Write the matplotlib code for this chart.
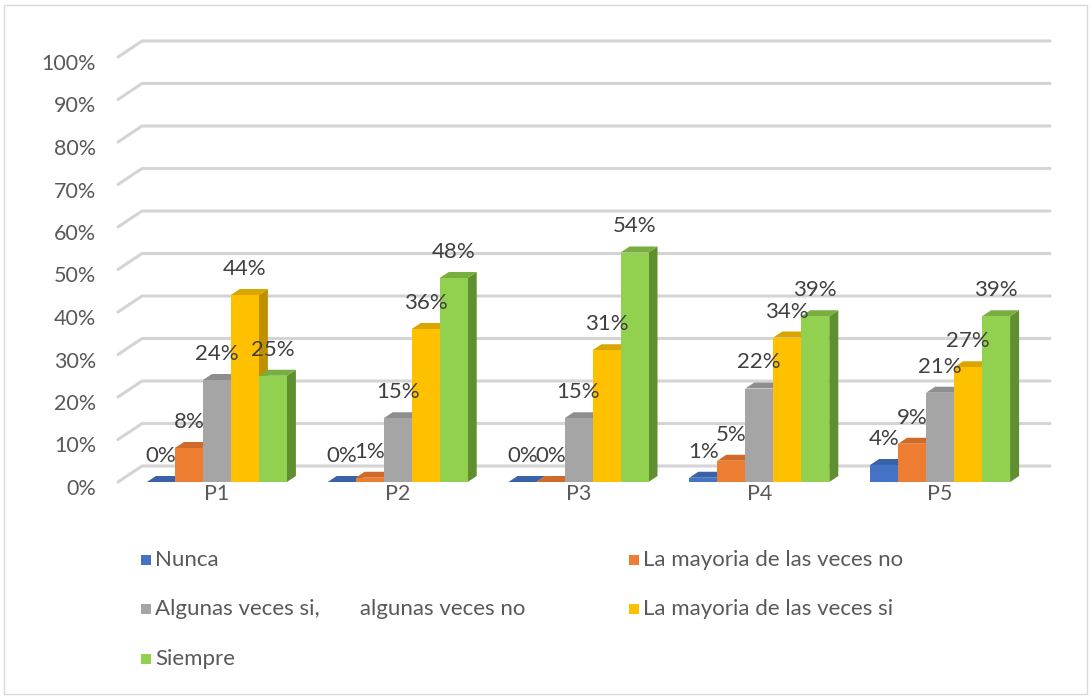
import matplotlib
matplotlib.use("Agg")
import matplotlib.pyplot as plt
from matplotlib.patches import Polygon, Rectangle
import numpy as np

categories = ["P1", "P2", "P3", "P4", "P5"]
series_names = ["Nunca", "La mayoria de las veces no",
                "Algunas veces si,       algunas veces no",
                "La mayoria de las veces si", "Siempre"]
nunca = [0, 0, 0, 1, 4]
mayoria_no = [8, 1, 0, 5, 9]
algunas = [24, 15, 15, 22, 21]
mayoria_si = [44, 36, 31, 34, 27]
siempre = [25, 48, 54, 39, 39]
yticks = [0, 10, 20, 30, 40, 50, 60, 70, 80, 90, 100]

series = [nunca, mayoria_no, algunas, mayoria_si, siempre]
front_colors = ["#4472C4", "#ED7D31", "#A5A5A5", "#FFC000", "#92D050"]
side_colors = ["#2F5597", "#B35A1F", "#7C7C7C", "#BF9000", "#5F8F2F"]
top_colors = ["#3A62A8", "#CF6A28", "#8E8E8E", "#DBA500", "#77AE3F"]

W, H = 1092, 698
plt.rcParams['font.family'] = ['Lato', 'DejaVu Sans']
fig = plt.figure(figsize=(W / 100, H / 100), dpi=100)

# axes placement (pixels)
x_left_px, x_right_px = 126.5, 1030.5
y_bot_px, y_top_px = 482, 57
ax = fig.add_axes([x_left_px / W, (H - y_bot_px) / H,
                   (x_right_px - x_left_px) / W, (y_bot_px - y_top_px) / H])
ax.set_xlim(-0.5, 4.5)
ax.set_ylim(0, 100)
ax.axis('off')

px_x = (x_right_px - x_left_px) / 5.0   # pixels per category unit
px_y = (y_bot_px - y_top_px) / 100.0    # pixels per percent

def dx(p):
    return p / px_x

def dy(p):
    return p / px_y

# gridlines (back wall + left wall)
grid_c = "#D4D4D4"
for v in yticks:
    xs = [-0.5 + dx(118 - x_left_px), -0.5 + dx(142 - x_left_px), -0.5 + dx(1050 - x_left_px)]
    ys = [v, v + dy(16), v + dy(16)]
    ax.plot(xs, ys, color=grid_c, lw=2.2, clip_on=False, zorder=1, solid_capstyle='round')
    ax.text(-0.5 + dx(96 - x_left_px), v - dy(7), f"{v}%", ha='right', va='center',
            fontsize=15.5, color="#595959")

bw = dx(28)
ddx, ddy = dx(9), dy(6)
xpos = np.arange(len(categories))
for i, (vals, fc, sc, tc) in enumerate(zip(series, front_colors, side_colors, top_colors)):
    for j, v in enumerate(vals):
        x0 = xpos[j] + (i - 2.5) * bw
        x1 = x0 + bw
        z = 3 + j * 10 + i
        ax.add_patch(Polygon([(x1, 0), (x1 + ddx, ddy), (x1 + ddx, v + ddy), (x1, v)],
                             closed=True, facecolor=sc, edgecolor='none', zorder=z, clip_on=False))
        ax.add_patch(Polygon([(x0, v), (x1, v), (x1 + ddx, v + ddy), (x0 + ddx, v + ddy)],
                             closed=True, facecolor=tc, edgecolor='none', zorder=z, clip_on=False))
        ax.bar(x0, v, width=bw, align='edge', color=fc, zorder=z, clip_on=False)
        ax.text((x0 + x1) / 2, v + dy(26), f"{v}%", ha='center', va='center',
                fontsize=16, color="#404040", zorder=200)

for j, c in enumerate(categories):
    ax.text(xpos[j], -dy(12), c, ha='center', va='center', fontsize=15.5, color="#595959")

# legend (manual, in pixels)
leg_pos = [(141, 560), (629, 560), (141, 609), (629, 609), (141, 659)]
for (lx, ly), name, fc in zip(leg_pos, series_names, front_colors):
    fig.patches.append(Rectangle((lx / W, (H - ly - 5) / H), 10 / W, 10 / H,
                                 transform=fig.transFigure, facecolor=fc, edgecolor='none'))
    fig.text((lx + 14) / W, (H - ly) / H, name, ha='left', va='center',
             fontsize=16, color="#595959")

# chart border
fig.patches.append(Rectangle((4 / W, 4 / H), (W - 9) / W, (H - 9) / H, transform=fig.transFigure,
                             facecolor='none', edgecolor="#D9D9D9", lw=1))

fig.savefig("out.png", dpi=100)
